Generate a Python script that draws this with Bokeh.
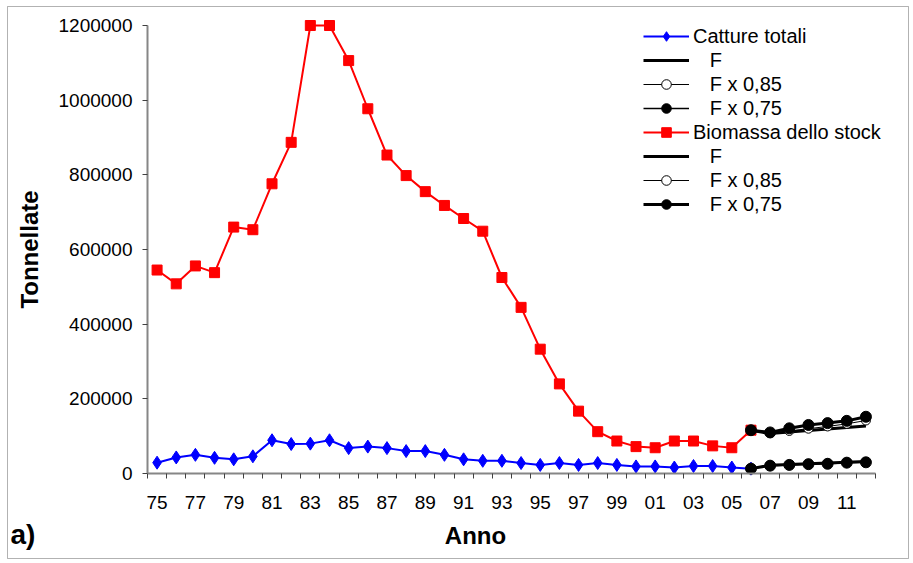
from bokeh.plotting import figure
from bokeh.models import (Range1d, FixedTicker, Legend, LegendItem, Label,
                          BoxAnnotation, NumeralTickFormatter)
from bokeh.embed import file_html
from bokeh.resources import INLINE

# ---------------- data ----------------
years = list(range(1975, 2013))                       # category axis 75 .. 12
tick_years = list(range(1975, 2012, 2))               # labelled: 75, 77, ..., 11
hist_years = list(range(1975, 2007))                  # 1975 .. 2006
proj_years = list(range(2006, 2013))                  # 2006 .. 2012

catture_totali = [29000, 43000, 50000, 42000, 38000, 46000, 89000, 79000, 80000, 89000,
                  68000, 72000, 68000, 60000, 60000, 50000, 38000, 34000, 34000, 28000,
                  23000, 28000, 23000, 28000, 23000, 19000, 19000, 16000, 20000, 20000,
                  16000, 13000]
biomassa_stock = [545000, 508000, 556000, 538000, 660000, 653000, 776000, 887000, 1200000, 1200000,
                  1106000, 977000, 853000, 798000, 755000, 718000, 683000, 649000, 525000, 445000,
                  333000, 240000, 167000, 112000, 87000, 72000, 69000, 87000, 87000, 74000,
                  69000, 116000]

catture_F = [13000, 22000, 24000, 26000, 28000, 30000, 32000]
catture_F085 = [13000, 22000, 24000, 26000, 27000, 30000, 31000]
catture_F075 = [13000, 21000, 23000, 25000, 26000, 29000, 30000]

biomassa_F = [116000, 107000, 111000, 115000, 119000, 123000, 127000]
biomassa_F085 = [116000, 108000, 114000, 120000, 126000, 133000, 142000]
biomassa_F075 = [116000, 110000, 121000, 130000, 135000, 141000, 152000]

y_ticks = [0, 200000, 400000, 600000, 800000, 1000000, 1200000]
y_max = 1200000

# ---------------- layout geometry (pixels) ----------------
W, H = 913, 563
AX_L, AX_R, AX_T, AX_B = 147, 875, 25, 473      # axis box in the canvas

idx = {y: i for i, y in enumerate(years)}
hx = [idx[y] for y in hist_years]
px = [idx[y] for y in proj_years]

ncat = len(years)
cat_px = (AX_R - AX_L) / ncat
x0 = -0.5
x_start = x0 - AX_L / cat_px
x_end = x0 + (W - AX_L) / cat_px
ky = y_max / (AX_B - AX_T)
y_start = -(H - AX_B) * ky
y_end = y_max + AX_T * ky

FONT = "Liberation Sans"

p = figure(width=W, height=H, output_backend="svg", toolbar_location=None,
           x_range=Range1d(x_start, x_end), y_range=Range1d(y_start, y_end),
           min_border=0, min_border_left=0, min_border_right=0,
           min_border_top=0, min_border_bottom=0)
p.title.visible = False
p.outline_line_color = None
p.xgrid.grid_line_color = None
p.ygrid.grid_line_color = None
p.background_fill_color = "white"
p.border_fill_color = "white"

# x axis: labels every two years, tick marks between categories
xa = p.xaxis[0]
xa.fixed_location = 0
xa.bounds = (x0, x0 + ncat)
xa.ticker = FixedTicker(ticks=[idx[y] for y in tick_years],
                        minor_ticks=[i - 0.5 for i in range(ncat + 1)])
xa.major_label_overrides = {idx[y]: f"{y % 100:02d}" for y in tick_years}
xa.major_tick_line_color = None
xa.minor_tick_in = 0
xa.minor_tick_out = 5
xa.minor_tick_line_color = "#404040"
xa.axis_line_color = "#868686"
xa.axis_line_width = 2
xa.major_label_text_font = FONT
xa.major_label_text_font_size = "19px"
xa.major_label_text_color = "black"
xa.major_label_standoff = 16

ya = p.yaxis[0]
ya.fixed_location = x0
ya.bounds = (0, y_max)
ya.ticker = FixedTicker(ticks=y_ticks)
ya.formatter = NumeralTickFormatter(format="0")
ya.minor_tick_line_color = None
ya.major_tick_in = 0
ya.major_tick_out = 5
ya.major_tick_line_color = "#404040"
ya.axis_line_color = "#868686"
ya.axis_line_width = 2
ya.major_label_text_font = FONT
ya.major_label_text_font_size = "19px"
ya.major_label_text_color = "black"
ya.major_label_standoff = 10
ya.axis_label = "Tonnellate"
ya.axis_label_text_font = FONT
ya.axis_label_text_font_size = "24px"
ya.axis_label_text_font_style = "bold"
ya.axis_label_text_color = "black"
ya.axis_label_standoff = 13

# ---------------- series ----------------
r_blue_l = p.line(hx, catture_totali, line_color="#0000FF", line_width=2)
r_blue_m = p.scatter(hx, catture_totali, marker="diamond", size=13, fill_color="#0000FF", line_color="#0000FF")
r_red_l = p.line(hx, biomassa_stock, line_color="#FF0000", line_width=2)
r_red_m = p.scatter(hx, biomassa_stock, marker="square", size=10, fill_color="#FF0000", line_color="#FF0000")

# catch projections
c_F = p.line(px, catture_F, line_color="black", line_width=3)
c_85_l = p.line(px, catture_F085, line_color="black", line_width=1)
c_85_m = p.scatter(px, catture_F085, marker="circle", size=9, fill_color="white", line_color="black")
c_75_l = p.line(px, catture_F075, line_color="black", line_width=1.5)
c_75_m = p.scatter(px, catture_F075, marker="circle", size=11, fill_color="black", line_color="black")

# biomass projections
b_F = p.line(px, biomassa_F, line_color="black", line_width=3)
b_85_l = p.line(px, biomassa_F085, line_color="black", line_width=1)
b_85_m = p.scatter(px, biomassa_F085, marker="circle", size=9, fill_color="white", line_color="black")
b_75_l = p.line(px, biomassa_F075, line_color="black", line_width=3)
b_75_m = p.scatter(px, biomassa_F075, marker="circle", size=11, fill_color="black", line_color="black")

ind = "\u00a0\u00a0\u00a0"
legend = Legend(items=[
    LegendItem(label="Catture totali", renderers=[r_blue_l, r_blue_m]),
    LegendItem(label=ind + "F", renderers=[c_F]),
    LegendItem(label=ind + "F x 0,85", renderers=[c_85_l, c_85_m]),
    LegendItem(label=ind + "F x 0,75", renderers=[c_75_l, c_75_m]),
    LegendItem(label="Biomassa dello stock", renderers=[r_red_l, r_red_m]),
    LegendItem(label=ind + "F", renderers=[b_F]),
    LegendItem(label=ind + "F x 0,85", renderers=[b_85_l, b_85_m]),
    LegendItem(label=ind + "F x 0,75", renderers=[b_75_l, b_75_m]),
], location=(643, H - 24 - 8 * 24))
legend.border_line_color = None
legend.background_fill_alpha = 0
legend.padding = 0
legend.spacing = 0
legend.glyph_width = 46
legend.glyph_height = 24
legend.label_height = 24
legend.label_standoff = 4
legend.label_text_font = FONT
legend.label_text_font_size = "20px"
legend.label_text_color = "black"
p.add_layout(legend, "center")

# ---------------- texts & frame ----------------
p.add_layout(Label(x=475, y=535, x_units="canvas", y_units="canvas", text="Anno",
                   text_align="center", text_baseline="alphabetic",
                   text_font=FONT, text_font_size="24px", text_font_style="bold",
                   text_color="black"))
p.add_layout(Label(x=10, y=534, x_units="canvas", y_units="canvas", text="a)",
                   text_align="left", text_baseline="alphabetic",
                   text_font=FONT, text_font_size="28px", text_font_style="bold",
                   text_color="black"))
p.add_layout(BoxAnnotation(left=7, right=908, top=6, bottom=558,
                           left_units="canvas", right_units="canvas",
                           top_units="canvas", bottom_units="canvas",
                           fill_color=None, fill_alpha=0,
                           line_color="black", line_width=1))

open("out.html", "w").write(file_html(p, INLINE))
